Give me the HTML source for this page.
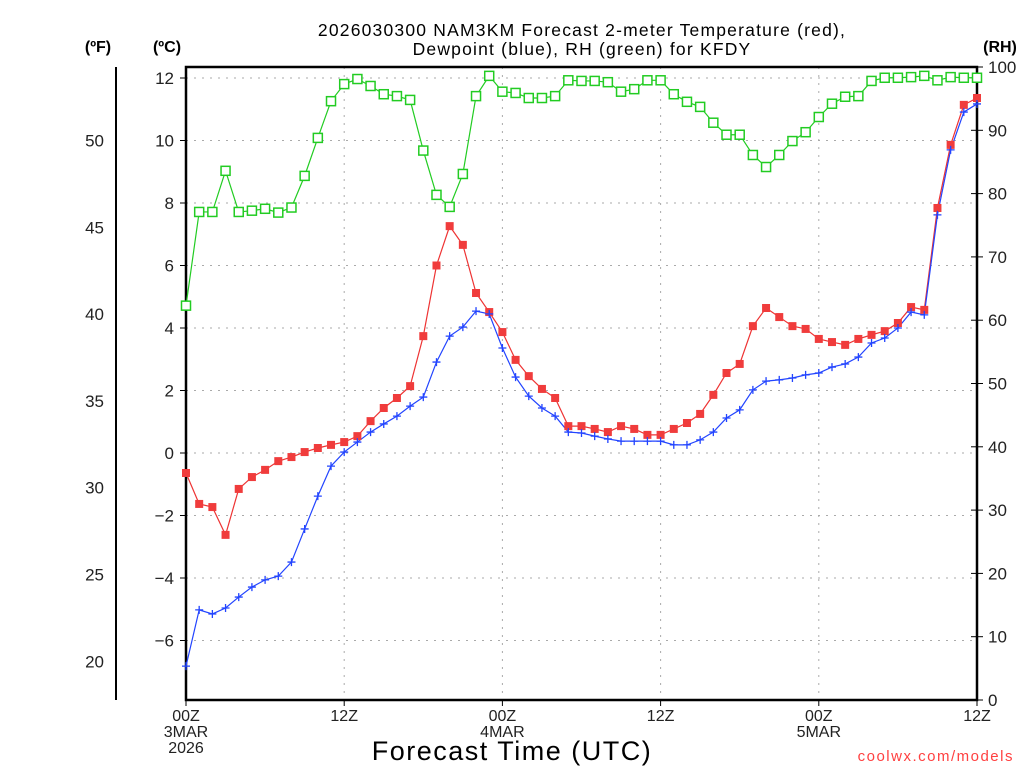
<!DOCTYPE html>
<html><head><meta charset="utf-8"><style>
html,body{margin:0;padding:0;background:#fff;}
svg{display:block;font-family:"Liberation Sans","DejaVu Sans",sans-serif;}
</style></head><body>
<svg id="chart" width="1024" height="768" viewBox="0 0 1024 768" xmlns="http://www.w3.org/2000/svg">
<text x="582" y="36" text-anchor="middle" font-size="17.5" letter-spacing="1.2">2026030300 NAM3KM Forecast 2-meter Temperature (red),</text>
<text x="582" y="55" text-anchor="middle" font-size="17.5" letter-spacing="1.2">Dewpoint (blue), RH (green) for KFDY</text>
<text x="98" y="52" text-anchor="middle" font-size="16" font-weight="bold">(ºF)</text>
<text x="167" y="52" text-anchor="middle" font-size="16" font-weight="bold">(ºC)</text>
<text x="1000" y="52" text-anchor="middle" font-size="16" font-weight="bold">(RH)</text>
<text x="512" y="760" text-anchor="middle" font-size="27" letter-spacing="1.5">Forecast Time (UTC)</text>
<text x="1014" y="761" text-anchor="end" font-size="15" fill="#ff4040" letter-spacing="1.5">coolwx.com/models</text>
<g id="grid"></g><g id="axes"></g><g id="series"></g>
</svg>
<script>
const hours = Array.from({length:61},(_,i)=>i);
const tempC = [-0.64,-1.63,-1.73,-2.62,-1.15,-0.77,-0.54,-0.26,-0.13,0.03,0.16,0.26,0.35,0.54,1.02,1.44,1.76,2.14,3.74,6.0,7.26,6.66,5.12,4.51,3.87,2.98,2.46,2.05,1.76,0.86,0.86,0.77,0.67,0.86,0.77,0.58,0.58,0.77,0.96,1.25,1.86,2.56,2.85,4.06,4.64,4.35,4.06,3.97,3.65,3.55,3.46,3.65,3.78,3.9,4.16,4.67,4.58,7.84,9.86,11.14,11.36];
const dewC = [-6.82,-5.02,-5.15,-4.96,-4.61,-4.29,-4.06,-3.94,-3.49,-2.43,-1.38,-0.42,0.03,0.35,0.67,0.93,1.18,1.5,1.79,2.91,3.74,4.03,4.54,4.45,3.36,2.43,1.82,1.44,1.18,0.67,0.64,0.54,0.45,0.38,0.38,0.38,0.38,0.26,0.26,0.42,0.67,1.12,1.38,2.02,2.3,2.34,2.4,2.5,2.56,2.75,2.85,3.07,3.52,3.68,4.0,4.51,4.42,7.62,9.7,10.91,11.17];
const rh = [62.3,77.1,77.1,83.6,77.1,77.3,77.6,77.0,77.8,82.8,88.8,94.6,97.3,98.1,97.0,95.7,95.4,94.8,86.8,79.8,77.9,83.1,95.4,98.6,96.1,95.9,95.1,95.1,95.4,97.9,97.8,97.8,97.6,96.1,96.5,97.9,97.9,95.7,94.5,93.7,91.2,89.3,89.3,86.1,84.2,86.1,88.3,89.7,92.1,94.2,95.3,95.4,97.8,98.3,98.3,98.4,98.6,97.9,98.4,98.3,98.3];
const cTicks = [12,10,8,6,4,2,0,-2,-4,-6];
const fTicks = [50,45,40,35,30,25,20];
const rhTicks = [0,10,20,30,40,50,60,70,80,90,100];
const xTickHours = [0,12,24,36,48,60];
const xTickLabels = [["00Z","3MAR","2026"],["12Z"],["00Z","4MAR"],["12Z"],["00Z","5MAR"],["12Z"]];

const L=186,R=977,T=67,B=700;
const xs=h=>L+(R-L)*h/60;
const yc=c=>453-31.25*c;
const yf=f=>yc((f-32)*5/9);
const yr=v=>B-(B-T)*v/100;
const NS="http://www.w3.org/2000/svg";
function mk(tag,attrs,parent,txt){const e=document.createElementNS(NS,tag);for(const k in attrs)e.setAttribute(k,attrs[k]);if(txt!==undefined)e.textContent=txt;parent.appendChild(e);return e;}
const grid=document.getElementById('grid'),axes=document.getElementById('axes'),ser=document.getElementById('series');

cTicks.forEach(c=>{
  const g=mk('line',{x1:L,x2:R,y1:yc(c),y2:yc(c),stroke:'#aaa','stroke-width':1,'stroke-dasharray':'2,6'},grid);
  
  
  const t=mk('line',{x1:L-6,x2:L,y1:yc(c),y2:yc(c),stroke:'#000'},axes);
  
  
  const lb=mk('text',{x:L-12,y:yc(c)+6,'text-anchor':'end','font-size':17,fill:'#222'},axes,c<0?'\u2212'+(-c):String(c));
  
  
});
xTickHours.forEach((h,i)=>{
  if(h>0&&h<60){const g=mk('line',{x1:xs(h),x2:xs(h),y1:T,y2:B,stroke:'#aaa','stroke-width':1,'stroke-dasharray':'2,6'},grid);
  
  }
  const t=mk('line',{x1:xs(h),x2:xs(h),y1:B,y2:B+6,stroke:'#000'},axes);
  
  
  xTickLabels[i].forEach((s,j)=>{
    const lb=mk('text',{x:xs(h),y:721+j*16,'text-anchor':'middle','font-size':16,fill:'#222'},axes,s);
    
    
  });
});
const fl=mk('line',{x1:116,x2:116,y1:T,y2:B,stroke:'#000','stroke-width':2},axes);


fTicks.forEach(f=>{
  const lb=mk('text',{x:104,y:yf(f)+6,'text-anchor':'end','font-size':17,fill:'#222'},axes,String(f));
  
  
});
rhTicks.forEach(v=>{
  const t=mk('line',{x1:R-6,x2:R+6,y1:yr(v),y2:yr(v),stroke:'#000'},axes);
  
  
  const lb=mk('text',{x:R+11,y:yr(v)+6,'font-size':17,fill:'#222'},axes,String(v));
  
  
});
const fr=mk('rect',{x:L,y:T,width:R-L,height:B-T,fill:'none',stroke:'#000','stroke-width':2.5},axes);



function line(vals,yfn,color,name){
  const p=mk('polyline',{points:vals.map((v,i)=>xs(hours[i])+','+yfn(v)).join(' '),fill:'none',stroke:color,'stroke-width':1.2},ser);
  
  
}
line(rh,yr,'#22cc22','rh');
line(tempC,yc,'#ee3333','temperature');
line(dewC,yc,'#2244ff','dewpoint');
rh.forEach((v,i)=>{const m=mk('rect',{x:xs(hours[i])-4.5,y:yr(v)-4.5,width:9,height:9,fill:'#fff',stroke:'#22cc22','stroke-width':1.5},ser);
  
  });
tempC.forEach((v,i)=>{const m=mk('rect',{x:xs(hours[i])-4,y:yc(v)-4,width:8,height:8,fill:'#f03c3c'},ser);
  
  });
dewC.forEach((v,i)=>{const x=xs(hours[i]),y=yc(v);
  const m=mk('path',{d:`M${x-4},${y}H${x+4}M${x},${y-4}V${y+4}`,stroke:'#2244ff','stroke-width':1.3},ser);
  
  });
</script>
</body></html>
